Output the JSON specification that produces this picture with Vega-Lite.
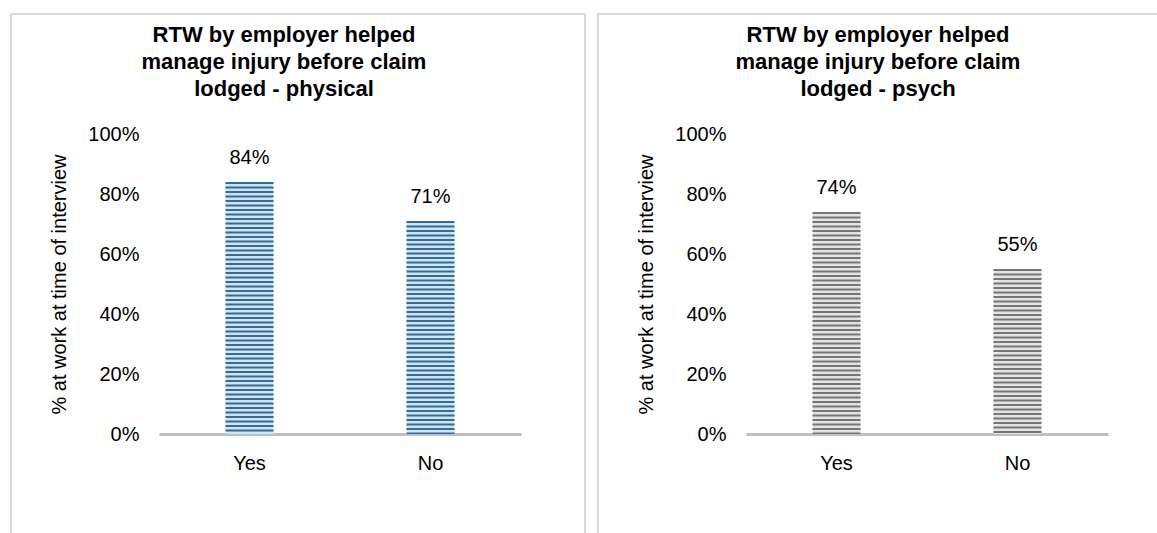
{
  "$schema": "https://vega.github.io/schema/vega-lite/v6.json",
  "padding": {"left": 10, "top": 13, "right": 0, "bottom": 0},
  "background": "white",
  "config": {
    "view": {"stroke": "#d9d9d9", "strokeWidth": 2},
    "font": "Liberation Sans",
    "concat": {"spacing": 11},
    "axis": {"grid": false, "ticks": false, "tickSize": 0, "labelFont": "Liberation Sans", "labelFontSize": 20, "labelColor": "#000", "titleFont": "Liberation Sans", "titleFontSize": 20, "titleFontWeight": "normal", "titleColor": "#000"},
    "title": {"font": "Liberation Sans", "fontSize": 22, "fontWeight": "bold", "color": "#000", "lineHeight": 27, "anchor": "middle", "frame": "group", "offset": -87}
  },
  "data": {"values": [
    {"injury": "physical", "answer": "Yes", "pct": 0.84},
    {"injury": "physical", "answer": "No", "pct": 0.71},
    {"injury": "psych", "answer": "Yes", "pct": 0.74},
    {"injury": "psych", "answer": "No", "pct": 0.55}
  ]},
  "hconcat": [
    {
      "width": 574, "height": 530,
      "title": {"text": ["RTW by employer helped", "manage injury before claim", "lodged - physical"], "dx": -14},
      "transform": [{"filter": "datum.injury === 'physical'"}],
      "encoding": {
        "x": {"field": "answer", "type": "nominal", "sort": ["Yes", "No"], "scale": {"range": [148, 510], "paddingInner": 0, "paddingOuter": 0}, "axis": {"title": null, "orient": "bottom", "offset": -110, "labelAngle": 0, "domainColor": "#bfbfbf", "domainWidth": 3, "labelPadding": 19}},
        "y": {"field": "pct", "type": "quantitative", "scale": {"domain": [0, 1], "range": [420, 120], "nice": false}, "axis": {"title": "% at work at time of interview", "offset": -148, "domain": false, "values": [0, 0.2, 0.4, 0.6, 0.8, 1], "format": ".0%", "labelPadding": 20, "titlePadding": 18}}
      },
      "layer": [
        {"mark": {"type": "bar", "size": 48, "fill": "#d3e3ef"}},
        {"mark": {"type": "rule", "strokeWidth": 48, "strokeDash": [2, 2.5], "strokeCap": "butt", "stroke": "#326c98"}, "encoding": {"y2": {"datum": 0}}},
        {"mark": {"type": "text", "baseline": "alphabetic", "dy": -18, "fontSize": 20, "color": "#000"}, "encoding": {"text": {"field": "pct", "type": "quantitative", "format": ".0%"}}}
      ]
    },
    {
      "width": 574, "height": 530,
      "title": {"text": ["RTW by employer helped", "manage injury before claim", "lodged - psych"], "dx": -7},
      "transform": [{"filter": "datum.injury === 'psych'"}],
      "encoding": {
        "x": {"field": "answer", "type": "nominal", "sort": ["Yes", "No"], "scale": {"range": [148, 510], "paddingInner": 0, "paddingOuter": 0}, "axis": {"title": null, "orient": "bottom", "offset": -110, "labelAngle": 0, "domainColor": "#bfbfbf", "domainWidth": 3, "labelPadding": 19}},
        "y": {"field": "pct", "type": "quantitative", "scale": {"domain": [0, 1], "range": [420, 120], "nice": false}, "axis": {"title": "% at work at time of interview", "offset": -148, "domain": false, "values": [0, 0.2, 0.4, 0.6, 0.8, 1], "format": ".0%", "labelPadding": 20, "titlePadding": 18}}
      },
      "layer": [
        {"mark": {"type": "bar", "size": 48, "fill": "#e4e4e4"}},
        {"mark": {"type": "rule", "strokeWidth": 48, "strokeDash": [2, 2.5], "strokeCap": "butt", "stroke": "#767676"}, "encoding": {"y2": {"datum": 0}}},
        {"mark": {"type": "text", "baseline": "alphabetic", "dy": -18, "fontSize": 20, "color": "#000"}, "encoding": {"text": {"field": "pct", "type": "quantitative", "format": ".0%"}}}
      ]
    }
  ]
}
